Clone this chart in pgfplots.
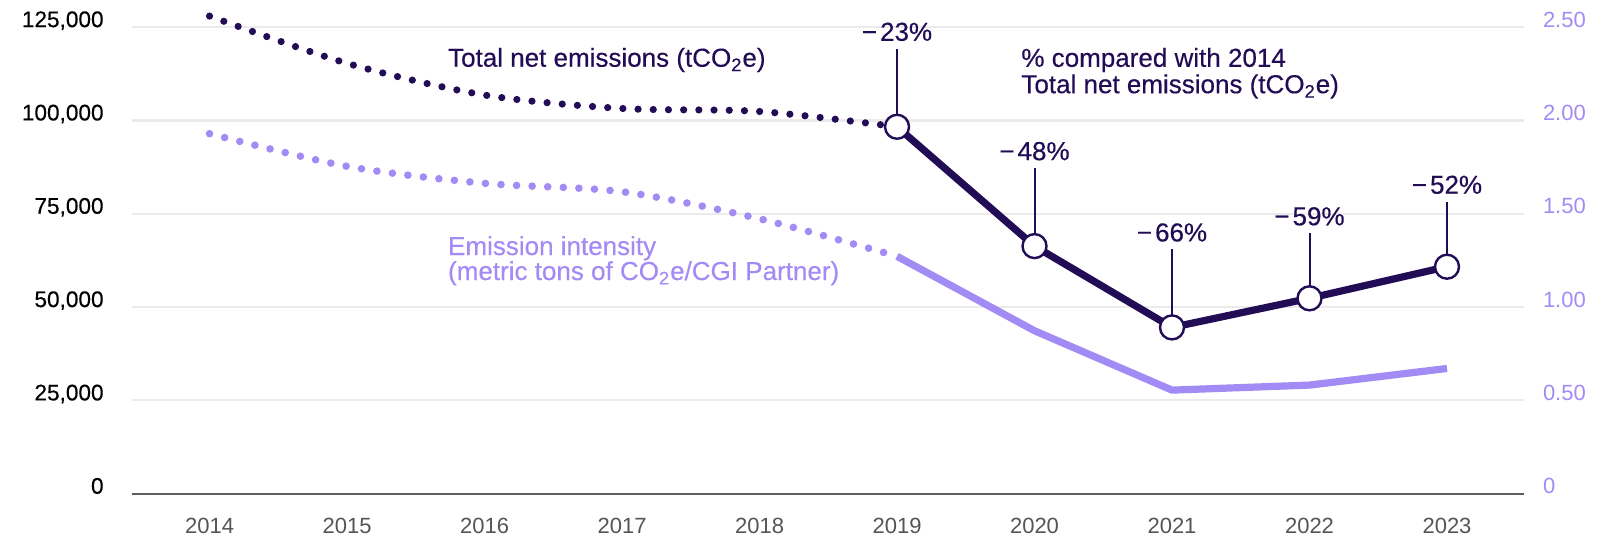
\documentclass[border=0pt]{standalone}
\usepackage{fontspec}
\setmainfont{Liberation Sans}
\newfontfamily\medfont[FakeBold=0.35]{Liberation Sans}
\usepackage{pgfplots}
\pgfplotsset{compat=1.18}

\definecolor{darkp}{HTML}{210C55}
\definecolor{lightp}{HTML}{A28BF5}
\definecolor{gridc}{HTML}{EBEBEB}
\definecolor{axisc}{HTML}{5E5E5E}
\definecolor{yearc}{HTML}{555555}

\newcommand{\tickfont}{\fontsize{11}{13}\selectfont}
\newcommand{\lefttickfont}{\medfont\fontsize{11.3}{13}\selectfont}
\newcommand{\notefont}{\medfont\fontsize{13}{16}\selectfont}

\begin{document}
\begin{tikzpicture}
\useasboundingbox (-66pt,-22.15pt) rectangle (735pt,246.85pt);

\pgfplotsset{
  base/.style={
    at={(0pt,0pt)}, anchor=south west,
    scale only axis, width=696pt, height=233.3pt,
    xmin=2013.436, xmax=2023.56, ymin=0,
    clip=false,
    axis line style={draw=none},
    major tick length=0pt,
    /pgf/number format/assume math mode=true,
  }
}

% left axis: total net emissions
\begin{axis}[base,
    ymax=125000,
    ytick={0,25000,50000,75000,100000,125000},
    scaled y ticks=false,
    yticklabel style={anchor=base east, inner sep=0pt, xshift=-14pt,
        font=\lefttickfont, text=black,
        /pgf/number format/.cd, fixed, 1000 sep={,}},
    xtick={2014,2015,2016,2017,2018,2019,2020,2021,2022,2023},
    xticklabels={2014,2015,2016,2017,2018,2019,2020,2021,2022,2023},
    xticklabel style={anchor=base, inner sep=0pt, yshift=-19.8pt,
        font=\tickfont, text=yearc},
    ymajorgrids, grid style={gridc, line width=1.1pt},
]
\draw[axisc, line width=1pt] (rel axis cs:0,0) -- (rel axis cs:1,0);

% 2014-2019 (dotted)
\addplot[darkp, line width=3.6pt, line cap=round, dash pattern=on 0pt off 7.6pt,
    smooth, tension=0.5] coordinates {
    (2014,127950) (2015,115300) (2016,106800) (2017,103200) (2018,102400) (2019,98300)
};
% 2019-2023 (solid)
\addplot[darkp, line width=3.6pt, line join=round] coordinates {
    (2019,98300) (2020,66330) (2021,44550) (2022,52350) (2023,60810)
};

% leaders and % labels
\draw[darkp, line width=1pt] (axis cs:2019,98300) -- ++(0pt,39pt)
    node[anchor=base, yshift=4pt, inner sep=0pt, font=\notefont, text=darkp] {−\hspace{1.5pt}23\%};
\draw[darkp, line width=1pt] (axis cs:2020,66330) -- ++(0pt,39pt)
    node[anchor=base, yshift=4pt, inner sep=0pt, font=\notefont, text=darkp] {−\hspace{1.5pt}48\%};
\draw[darkp, line width=1pt] (axis cs:2021,44550) -- ++(0pt,39pt)
    node[anchor=base, yshift=4pt, inner sep=0pt, font=\notefont, text=darkp] {−\hspace{1.5pt}66\%};
\draw[darkp, line width=1pt] (axis cs:2022,52350) -- ++(0pt,32.5pt)
    node[anchor=base, yshift=4pt, inner sep=0pt, font=\notefont, text=darkp] {−\hspace{1.5pt}59\%};
\draw[darkp, line width=1pt] (axis cs:2023,60810) -- ++(0pt,32.5pt)
    node[anchor=base, yshift=4pt, inner sep=0pt, font=\notefont, text=darkp] {−\hspace{1.5pt}52\%};

\addplot[only marks, mark=*, mark size=6pt,
    mark options={fill=white, draw=darkp, line width=1.2pt}] coordinates {
    (2019,98300) (2020,66330) (2021,44550) (2022,52350) (2023,60810)
};
\end{axis}

% right axis: emission intensity
\begin{axis}[base,
    ymax=2.5,
    axis y line*=right, axis x line=none,
    ytick={0,0.5,1,1.5,2,2.5},
    yticklabels={0,0.50,1.00,1.50,2.00,2.50},
    yticklabel style={anchor=base west, inner sep=0pt, xshift=9.3pt,
        font=\tickfont, text=lightp},
]
\addplot[lightp, line width=3.8pt, line cap=round, dash pattern=on 0pt off 7.8pt,
    smooth, tension=0.5] coordinates {
    (2014,1.929) (2015,1.754) (2016,1.663) (2017,1.618) (2018,1.473) (2019,1.272)
};
\addplot[lightp, line width=3.6pt, line join=round] coordinates {
    (2019,1.272) (2020,0.873) (2021,0.555) (2022,0.582) (2023,0.671)
};
\end{axis}

% annotations
\node[anchor=base west, inner sep=0pt, font=\notefont, text=darkp] at (157.85pt,213.5pt)
    {Total net emissions (tCO\textsubscript{2}e)};
\node[anchor=base west, inner sep=0pt, font=\notefont, text=darkp] at (444.5pt,213.45pt)
    {\% compared with 2014};
\node[anchor=base west, inner sep=0pt, font=\notefont, text=darkp] at (444.5pt,200.25pt)
    {Total net emissions (tCO\textsubscript{2}e)};
\node[anchor=base west, inner sep=0pt, font=\notefont, text=lightp] at (157.85pt,119.35pt)
    {Emission intensity};
\node[anchor=base west, inner sep=0pt, font=\notefont, text=lightp] at (157.85pt,106.85pt)
    {(metric tons of CO\textsubscript{2}e/CGI Partner)};
\end{tikzpicture}
\end{document}
